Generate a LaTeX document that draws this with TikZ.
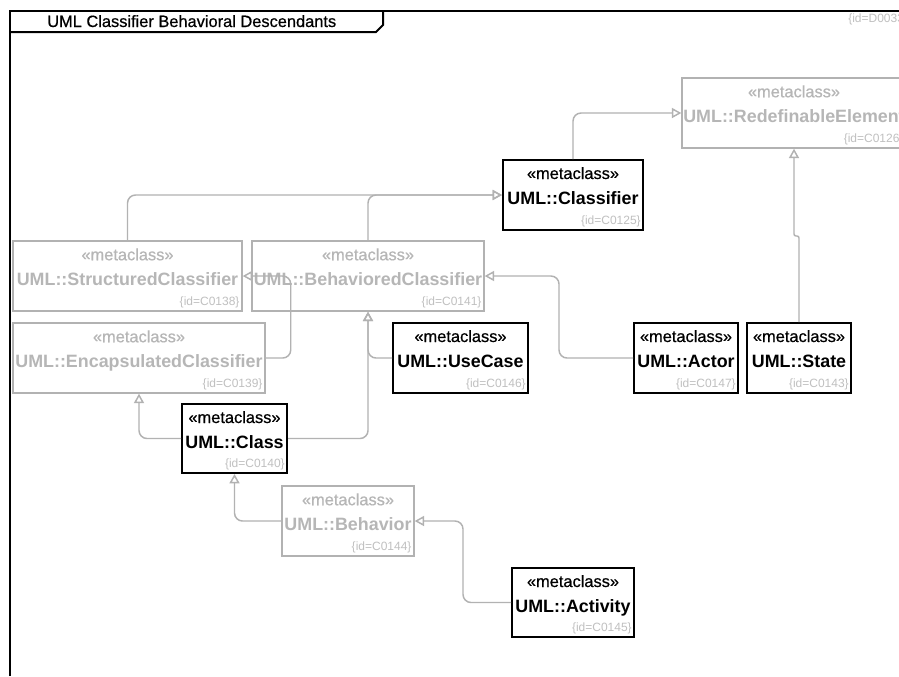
\documentclass[tikz,border=0pt]{standalone}
\usepackage{fontspec}
\setmainfont{Liberation Sans}
\newfontfamily\medfont{Liberation Sans}[FakeBold=0.6]
\usetikzlibrary{arrows.meta,fit}

\definecolor{linegray}{RGB}{178,178,178}
\definecolor{textgray}{RGB}{182,182,182}
\definecolor{idgray}{RGB}{192,192,192}

\tikzset{
  boxon/.style={draw=black, line width=1.5pt, fill=white, inner sep=0pt},
  boxoff/.style={draw=linegray, line width=1.1pt, fill=white, inner sep=0pt},
  stereoon/.style={inner sep=0pt, anchor=base, text=black, font=\medfont\fontsize{12.3}{14}\selectfont},
  stereooff/.style={stereoon, text=textgray},
  nameon/.style={inner sep=0pt, anchor=base, text=black, font=\fontsize{13.4}{16}\selectfont\bfseries},
  nameoff/.style={nameon, text=textgray},
  idtext/.style={inner sep=0pt, anchor=base east, text=idgray, font=\fontsize{9}{11}\selectfont},
  frameline/.style={draw=black, line width=1.5pt},
  conn/.style={draw=linegray, line width=1.1pt, rounded corners=6pt,
    -{Triangle[open, length=7pt, width=7.5pt]}},
}

% #1 on/off, #2 node name, #3 #4 opposite corners, #5 class name, #6 id
\newcommand\metaclassbox[6]{%
  \node[box#1, fit={#3 #4}] (#2) {};
  \node[stereo#1] (#2-st) at ([yshift=-15pt]#2.north) {«metaclass»};
  \node[name#1] (#2-nm) at ([yshift=-33.75pt]#2.north) {UML::#5};
  \node[idtext] (#2-id) at ([xshift=-2.25pt,yshift=4.8pt]#2.south east) {\{id=#6\}};
}

\begin{document}
\begin{tikzpicture}[x=0.75pt, y=-0.75pt]
  \useasboundingbox[fill=white] (0,0) rectangle (899,676);

  % diagram frame and title tab
  \draw[frameline] (10,676) -- (10,11) -- (899,11);
  \draw[frameline] (10,32) -- (376,32) -- (383,25) -- (383,11);
  \node[inner sep=0pt, anchor=base west, font=\medfont\fontsize{12.3}{14}\selectfont] (title) at (47,27)
    {UML Classifier Behavioral Descendants};
  \node[idtext, anchor=base west] (diagram-id) at (848,22) {\{id=D0033\}};

  % metaclasses
  \metaclassbox{off}{redef}{(682,78)}{(906,148)}{RedefinableElement}{C0126}
  \metaclassbox{on}{clsf}{(503,160)}{(643,230)}{Classifier}{C0125}
  \metaclassbox{off}{sc}{(13,241)}{(242,311)}{StructuredClassifier}{C0138}
  \metaclassbox{off}{bc}{(252,241)}{(484,311)}{BehavioredClassifier}{C0141}
  \metaclassbox{off}{ec}{(13,323)}{(265,393)}{EncapsulatedClassifier}{C0139}
  \metaclassbox{on}{uc}{(393,323)}{(528,393)}{UseCase}{C0146}
  \metaclassbox{on}{actor}{(634,323)}{(738,393)}{Actor}{C0147}
  \metaclassbox{on}{state}{(747,323)}{(851,393)}{State}{C0143}
  \metaclassbox{on}{class}{(182,404)}{(287,473)}{Class}{C0140}
  \metaclassbox{off}{beh}{(282,486)}{(414,556)}{Behavior}{C0144}
  \metaclassbox{on}{act}{(512,568)}{(634,637)}{Activity}{C0145}

  % generalizations
  \draw[conn] (clsf.north) |- (redef.west);
  \draw[conn] (sc.north) |- (clsf.west);
  \draw[conn] (bc.north) |- (clsf.west);
  \draw[conn] (ec.east) -- ++(25,0) |- (sc.east);
  \draw[conn] (uc.west) -| (bc.south);
  \draw[conn] (class.east) -| (bc.south);
  \draw[conn] (actor.west) -- ++(-74,0) |- (bc.east);
  \draw[conn, rounded corners=1.5pt] (state.north) -- ++(0,-86) -| (redef.south);
  \draw[conn] (class.west) -| (ec.south);
  \draw[conn] (beh.west) -| (class.south);
  \draw[conn] (act.west) -- ++(-48,0) |- (beh.east);
\end{tikzpicture}
\end{document}
